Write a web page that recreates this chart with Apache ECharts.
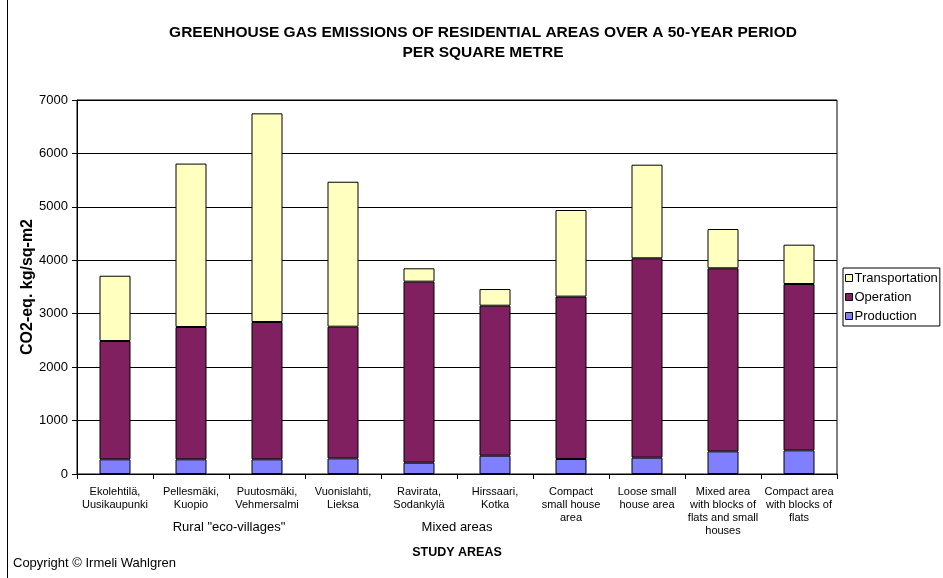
<!DOCTYPE html>
<html>
<head>
<meta charset="utf-8">
<script src="https://cdn.jsdelivr.net/npm/echarts@6/dist/echarts.min.js"></script>
<style>
  html, body { margin: 0; padding: 0; background: #fff; }
  #chart { width: 943px; height: 578px; }
</style>
</head>
<body>
<div id="chart"></div>
<script>
// Study areas (x categories)
const categories = [
  'Ekolehtilä,\nUusikaupunki',
  'Pellesmäki,\nKuopio',
  'Puutosmäki,\nVehmersalmi',
  'Vuonislahti,\nLieksa',
  'Ravirata,\nSodankylä',
  'Hirssaari,\nKotka',
  'Compact\nsmall house\narea',
  'Loose small\nhouse area',
  'Mixed area\nwith blocks of\nflats and small\nhouses',
  'Compact area\nwith blocks of\nflats'
];

// Emissions per component, CO2-eq. kg per square metre over 50 years
const production     = [275, 275, 275, 293, 212, 343, 281, 306, 424, 443];
const operation      = [2214, 2476, 2570, 2464, 3388, 2807, 3039, 3731, 3426, 3113];
const transportation = [1222, 3059, 3905, 2713, 250, 312, 1621, 1752, 735, 736];

// Groups of study areas: label, first and last category index
const groupNames = ['Rural "eco-villages"', 'Mixed areas'];
const groupFirst = [0, 4];
const groupLast  = [3, 5];

const yTicks = { min: 0, max: 7000, interval: 1000 };

const FONT = '"Liberation Sans", Arial, sans-serif';

const chart = echarts.init(document.getElementById('chart'), null, { renderer: 'canvas' });

const barStyle = (color) => ({
  color: color,
  borderColor: '#000',
  borderWidth: 1
});

chart.setOption({
  animation: false,
  backgroundColor: '#fff',
  textStyle: { fontFamily: FONT, color: '#000' },
  title: {
    text: 'GREENHOUSE GAS EMISSIONS OF RESIDENTIAL AREAS OVER A 50-YEAR PERIOD\nPER SQUARE METRE',
    left: 478,
    top: 18,
    textAlign: 'center',
    textStyle: {
      fontFamily: FONT,
      fontSize: 15.5,
      fontWeight: 'bold',
      lineHeight: 20,
      color: '#000'
    }
  },
  legend: {
    orient: 'vertical',
    left: 843,
    top: 268,
    data: ['Transportation', 'Operation', 'Production'],
    itemWidth: 7,
    itemHeight: 7,
    itemGap: 5,
    padding: [3, 2, 3, 2],
    borderColor: '#000',
    borderWidth: 1,
    borderRadius: 0,
    icon: 'rect',
    textStyle: { fontFamily: FONT, fontSize: 13, color: '#000', padding: [0, 0, 0, -3], lineHeight: 14 },
    itemStyle: { borderColor: '#000', borderWidth: 1 }
  },
  grid: {
    left: 77,
    right: 106,
    top: 100,
    bottom: 104,
    show: true,
    borderColor: '#000',
    borderWidth: 1,
    containLabel: false
  },
  xAxis: {
    type: 'category',
    data: categories,
    boundaryGap: true,
    name: 'STUDY AREAS',
    nameLocation: 'middle',
    nameGap: 72,
    nameTextStyle: { fontFamily: FONT, fontSize: 12.5, fontWeight: 'bold', color: '#000' },
    axisLine: { lineStyle: { color: '#000', width: 1 } },
    axisTick: { show: true, length: 5, lineStyle: { color: '#000' } },
    axisLabel: {
      interval: 0,
      margin: 11,
      fontFamily: FONT,
      fontSize: 11,
      lineHeight: 13,
      color: '#000'
    },
    splitLine: { show: false }
  },
  yAxis: {
    type: 'value',
    min: yTicks.min,
    max: yTicks.max,
    interval: yTicks.interval,
    axisLine: { show: true, lineStyle: { color: '#000', width: 1 } },
    axisTick: { show: true, length: 5, lineStyle: { color: '#000' } },
    axisLabel: {
      margin: 9,
      fontFamily: FONT,
      fontSize: 13,
      color: '#000',
      formatter: (v) => String(v)
    },
    splitLine: { show: true, lineStyle: { color: '#000', width: 1 } }
  },
  series: [
    {
      name: 'Production',
      type: 'bar',
      stack: 'total',
      barWidth: 31,
      data: production,
      itemStyle: barStyle('#8080FF')
    },
    {
      name: 'Operation',
      type: 'bar',
      stack: 'total',
      barWidth: 31,
      data: operation,
      itemStyle: barStyle('#802060')
    },
    {
      name: 'Transportation',
      type: 'bar',
      stack: 'total',
      barWidth: 31,
      data: transportation,
      itemStyle: barStyle('#FFFFC0')
    }
  ]
});

// Group captions centred under their study areas
const groupGraphics = groupNames.map((name, i) => {
  const x0 = chart.convertToPixel({ xAxisIndex: 0 }, groupFirst[i]);
  const x1 = chart.convertToPixel({ xAxisIndex: 0 }, groupLast[i]);
  return {
    type: 'text',
    x: (x0 + x1) / 2,
    y: 527,
    style: {
      text: name,
      fontFamily: FONT,
      fontSize: 13,
      fill: '#000',
      textAlign: 'center',
      textVerticalAlign: 'middle'
    }
  };
});

chart.setOption({
  graphic: groupGraphics.concat([
    {
      // value axis title
      type: 'text',
      x: 28,
      y: 287,
      rotation: Math.PI / 2,
      style: {
        text: 'CO2-eq. kg/sq-m2',
        fontFamily: FONT,
        fontSize: 16,
        fontWeight: 'bold',
        fill: '#000',
        textAlign: 'center',
        textVerticalAlign: 'middle'
      }
    },
    {
      type: 'line',
      shape: { x1: 7.5, y1: 0, x2: 7.5, y2: 578 },
      style: { stroke: '#000', lineWidth: 1 }
    },
    {
      type: 'text',
      x: 13,
      y: 563,
      style: {
        text: 'Copyright © Irmeli Wahlgren',
        fontFamily: FONT,
        fontSize: 13,
        fill: '#000',
        textAlign: 'left',
        textVerticalAlign: 'middle'
      }
    }
  ])
});
</script>
</body>
</html>
